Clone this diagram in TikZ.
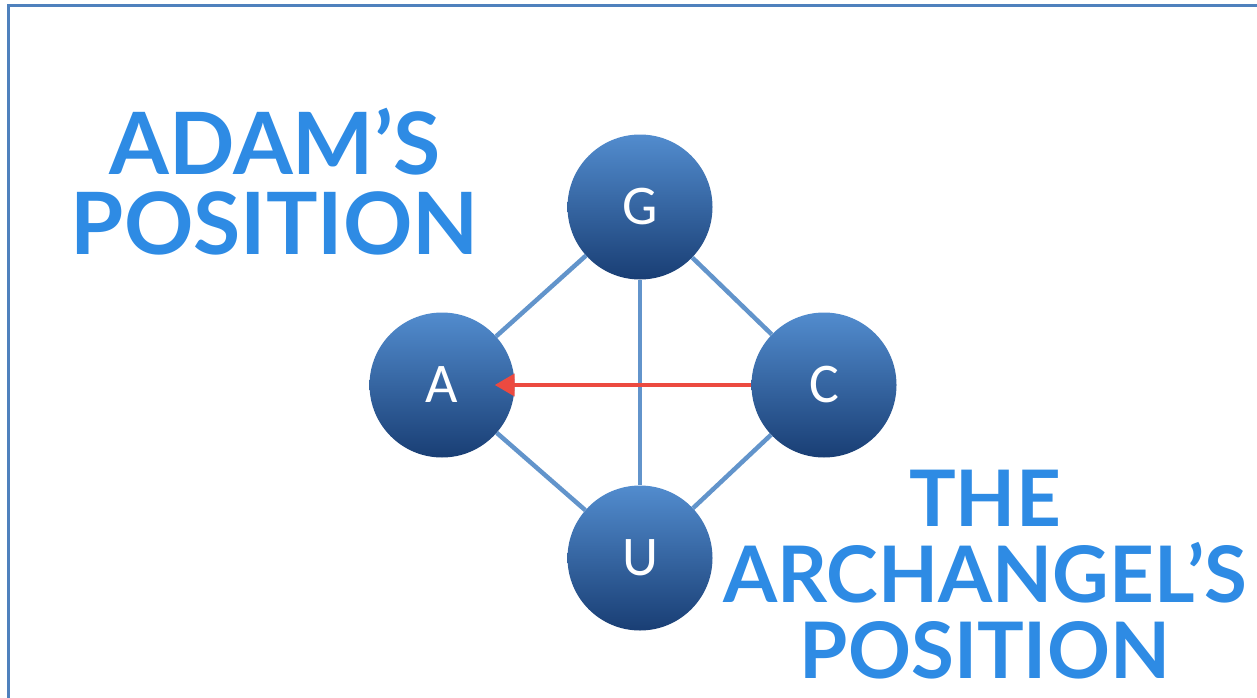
\documentclass[tikz,border=0pt]{standalone}
\usepackage{fontspec}
\usepackage{tikz}
\usetikzlibrary{arrows.meta,positioning}
\newfontfamily\headfont{Lato}
\newfontfamily\ballfont{Carlito}
\definecolor{ballTop}{RGB}{82,140,206}
\definecolor{ballBot}{RGB}{25,62,116}
\definecolor{linkBlue}{RGB}{98,148,203}
\definecolor{headBlue}{RGB}{46,139,228}
\definecolor{arrowRed}{RGB}{236,74,64}
\definecolor{frameBlue}{RGB}{79,129,189}

\begin{document}
\begin{tikzpicture}[x=1pt,y=-1pt,on grid,
  ball/.style={circle,minimum size=145pt,inner sep=0pt,top color=ballTop,
    bottom color=ballBot,text=white,font=\ballfont\fontsize{56}{56}\selectfont},
  head/.style={text=headBlue,align=center,inner sep=0pt,anchor=north}]
  \useasboundingbox (0,0) rectangle (1257,698);
  \draw[frameBlue,line width=2.5pt] (8.5,698) |- (1257,5.5);
  % the four positions
  \node[ball] (g) at (640,207) {G};
  \node[ball] (a) [below left=178pt and 198pt of g] {A};
  \node[ball] (c) [below right=178pt and 184pt of g] {C};
  \node[ball] (u) [below=351pt of g] {U};
  \path[draw,linkBlue,line width=4.5pt]
    (g) edge (a)
    (g) edge (c)
    (g) edge (u)
    (a) edge (u)
    (c) edge (u);
  \draw[arrowRed,line width=4pt,-{Triangle[length=20pt,width=22pt]},shorten >=-20pt]
    (c) -- (a);
  % captions
  \node[head,font=\headfont\bfseries\fontsize{86}{80}\selectfont] (adam)
    at (275,108) {ADAM’S\\POSITION};
  \node[head,font=\headfont\bfseries\fontsize{78}{76}\selectfont] (arch)
    at (985,470) {THE\\ARCHANGEL’S\\POSITION};
\end{tikzpicture}
\end{document}
